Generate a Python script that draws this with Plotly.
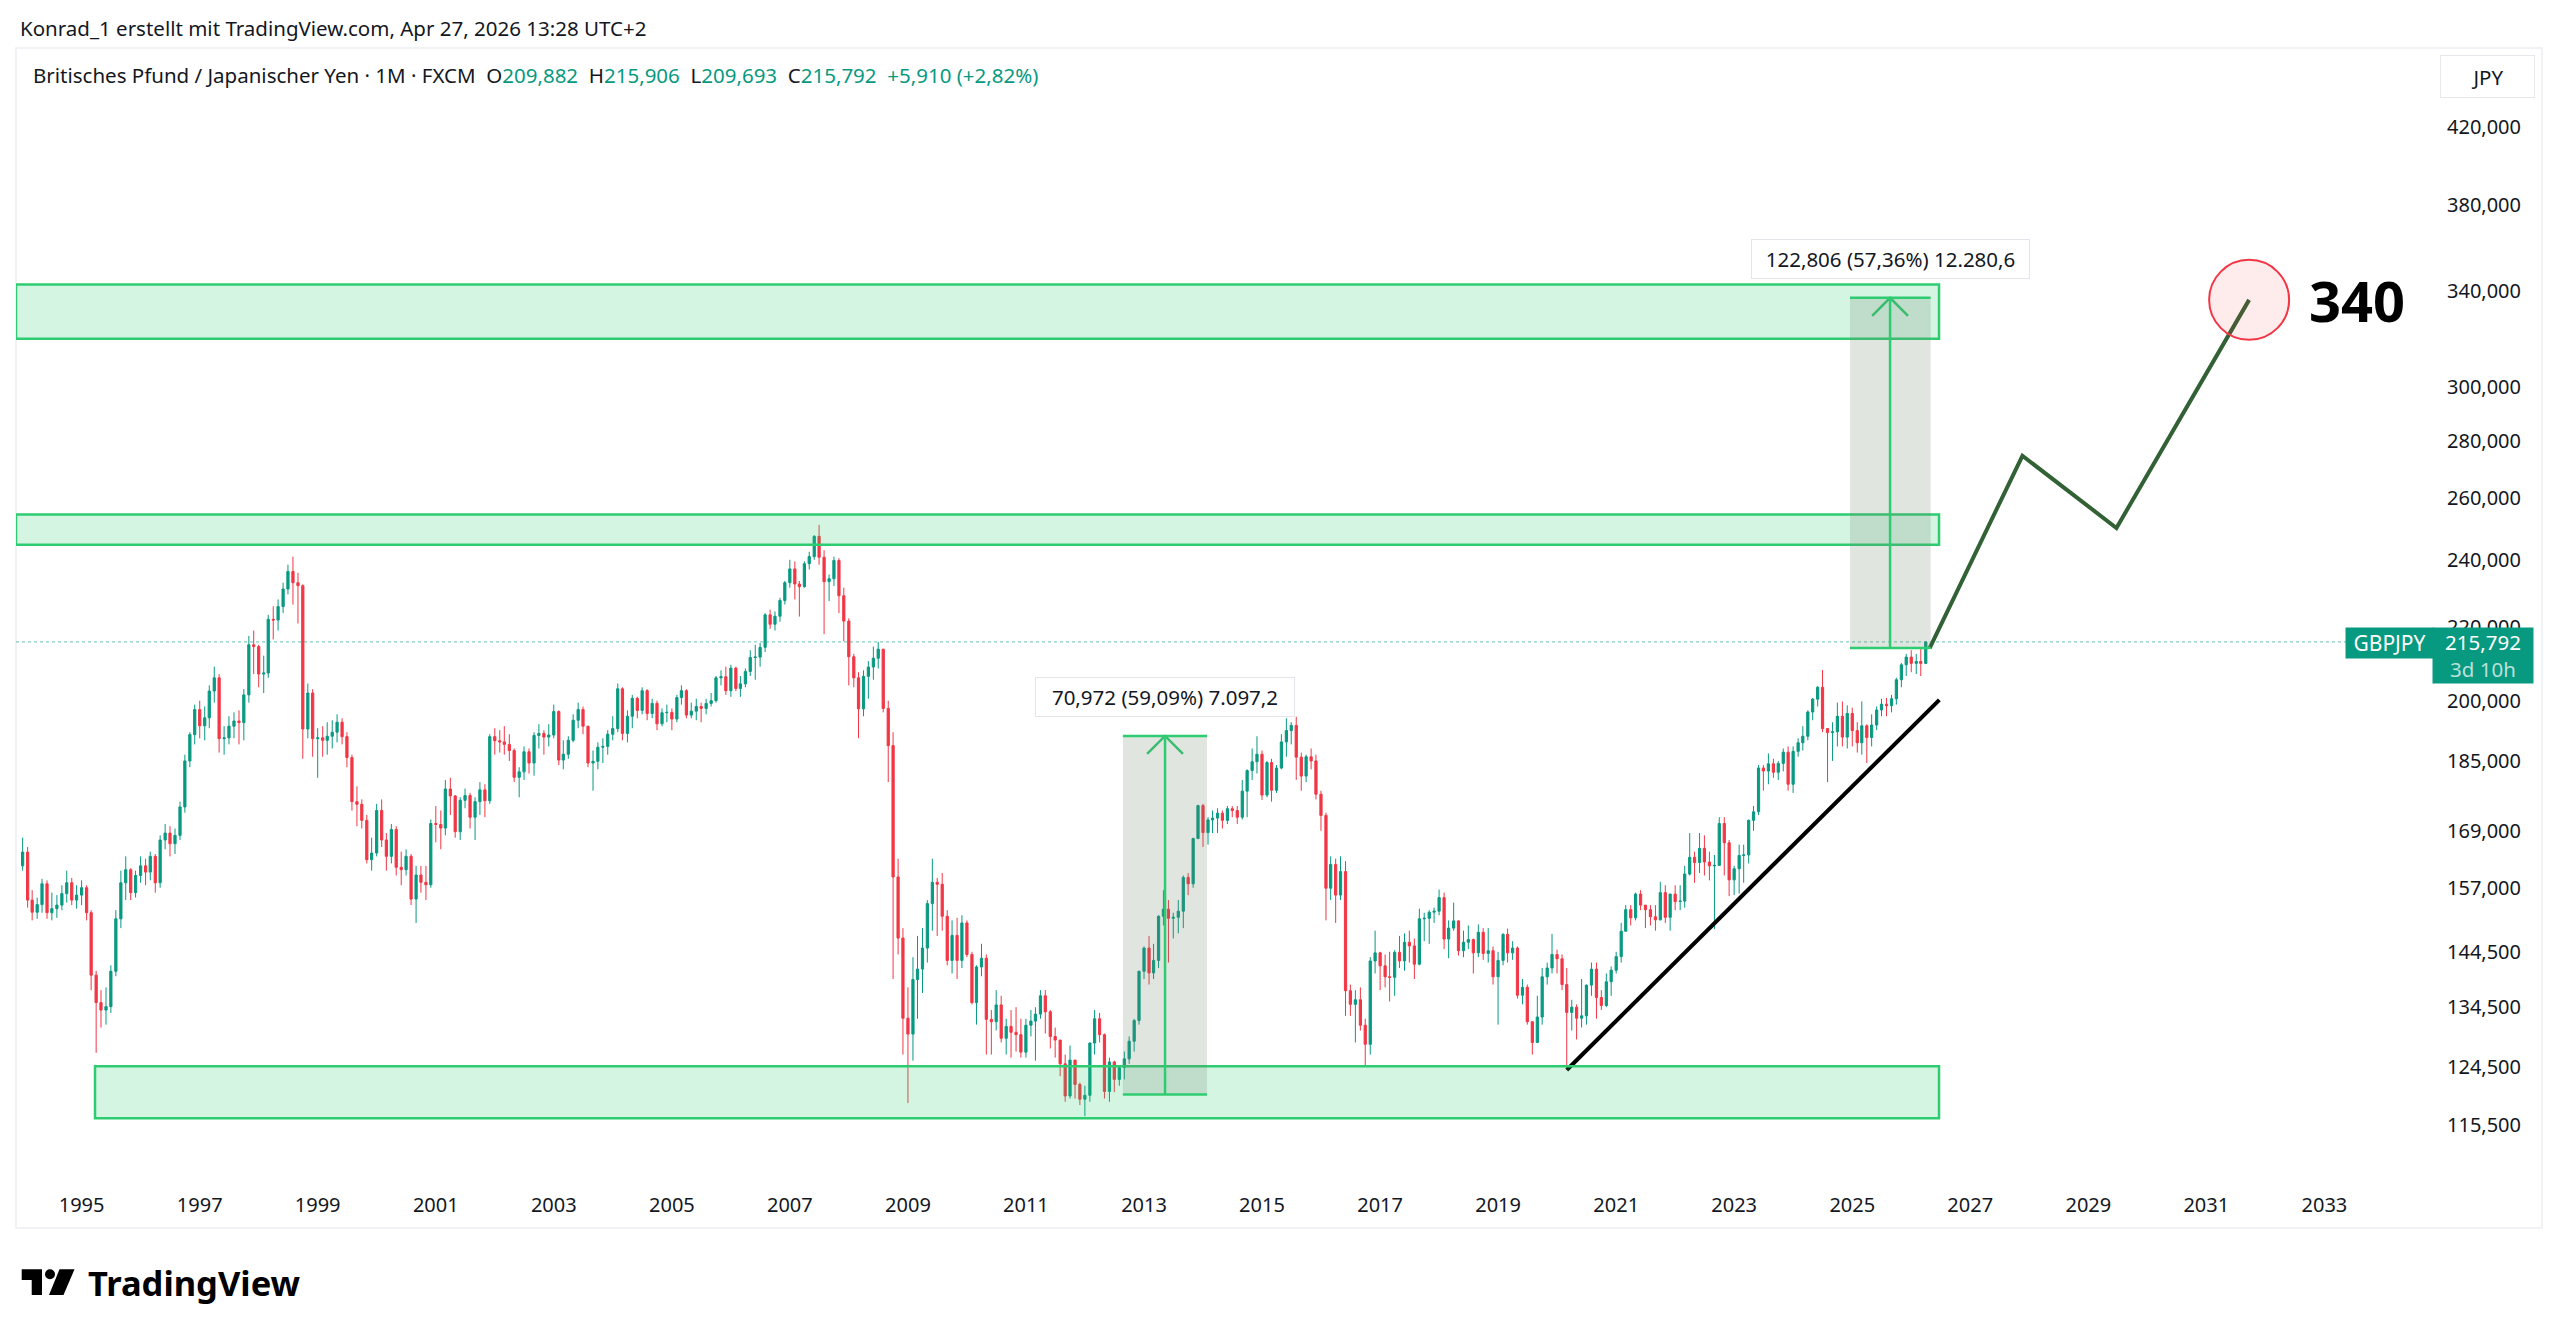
import math
import pandas as pd
import plotly.graph_objects as go

# ---------------- data ----------------
FIRST_MONTH = "1994-01-01"
FIRST_OPEN = 161.5

CLOSE = [
    164.4, 154.5, 152.1, 153.6, 157.8, 152.0, 152.8, 153.5, 155.8, 158.0, 154.5, 155.5,   # 1994
    157.0, 152.0, 140.2, 135.3, 134.0, 134.6, 140.9, 150.8, 158.0, 160.7, 156.0, 159.5,   # 1995
    161.5, 160.2, 163.5, 158.0, 167.0, 168.5, 166.2, 168.0, 174.3, 185.0, 191.4, 197.7,   # 1996
    193.6, 195.6, 202.5, 206.0, 190.4, 190.6, 193.5, 194.8, 194.4, 201.5, 215.0, 214.5,   # 1997
    207.0, 207.3, 222.2, 222.0, 225.9, 231.1, 236.4, 233.0, 232.1, 192.8, 202.0, 190.4,   # 1998
    190.6, 190.0, 191.0, 192.0, 194.5, 190.9, 185.8, 175.5, 174.9, 171.3, 162.8, 164.2,   # 1999
    173.5, 167.0, 163.5, 169.3, 161.2, 160.7, 163.5, 154.7, 159.6, 158.1, 157.6, 170.6,   # 2000
    170.4, 169.6, 178.4, 176.8, 168.8, 175.8, 176.9, 172.0, 175.5, 178.2, 175.7, 190.9,   # 2001
    189.9, 189.6, 189.0, 187.5, 181.1, 182.4, 187.2, 184.5, 191.2, 191.7, 190.8, 191.3,   # 2002
    197.2, 185.2, 186.6, 190.0, 195.0, 197.7, 193.5, 184.5, 184.9, 188.3, 188.5, 191.5,   # 2003
    192.9, 203.1, 191.7, 196.0, 200.6, 197.5, 202.6, 196.7, 199.3, 194.1, 196.9, 197.0,   # 2004
    195.3, 200.8, 202.6, 196.3, 197.3, 198.5, 198.0, 199.3, 200.0, 206.0, 206.3, 202.6,   # 2005
    208.6, 203.2, 204.4, 207.7, 211.5, 211.6, 214.3, 223.5, 220.8, 223.1, 227.7, 233.0,   # 2006
    237.2, 232.6, 231.8, 238.8, 241.0, 247.4, 240.8, 233.3, 234.2, 239.8, 229.1, 221.7,   # 2007
    211.7, 206.0, 197.9, 206.4, 208.9, 211.3, 213.8, 198.0, 188.7, 159.2, 147.1, 132.6,   # 2008
    129.9, 139.4, 141.3, 145.2, 153.8, 158.1, 157.7, 151.3, 142.9, 147.6, 142.9, 150.0,   # 2009
    144.0, 135.3, 141.7, 143.3, 132.4, 132.0, 134.9, 129.2, 131.2, 130.2, 129.8, 126.9,   # 2010
    131.4, 132.1, 133.3, 136.5, 133.7, 129.5, 128.9, 125.0, 119.9, 125.6, 121.7, 119.4,   # 2011
    120.0, 128.4, 132.5, 129.8, 120.6, 125.3, 122.5, 124.4, 125.8, 128.7, 132.2, 140.9,   # 2012
    145.2, 140.6, 142.9, 151.3, 152.7, 150.9, 151.1, 152.3, 159.1, 157.8, 167.3, 174.6,   # 2013
    168.6, 171.4, 171.8, 172.9, 171.3, 173.9, 173.5, 172.0, 177.9, 182.7, 184.8, 186.6,   # 2014
    177.0, 184.6, 178.1, 183.3, 189.6, 192.4, 193.7, 185.9, 181.4, 186.0, 185.0, 177.2,   # 2015
    172.4, 156.9, 161.8, 155.5, 160.3, 137.4, 135.0, 135.8, 131.4, 128.2, 142.8, 144.3,   # 2016
    141.9, 139.9, 139.8, 144.4, 142.8, 146.3, 145.6, 142.2, 150.8, 150.9, 152.1, 152.3,   # 2017
    155.0, 146.9, 149.0, 150.4, 144.7, 146.3, 146.8, 144.3, 148.2, 144.2, 144.7, 139.9,   # 2018
    142.9, 147.8, 144.3, 145.2, 136.6, 138.0, 132.0, 128.5, 132.8, 139.9, 141.5, 144.0,   # 2019
    143.2, 138.5, 133.6, 134.5, 132.6, 133.0, 138.4, 141.3, 136.2, 134.8, 139.0, 141.1,   # 2020
    143.6, 148.4, 152.6, 151.0, 155.7, 153.5, 152.6, 151.2, 150.6, 156.0, 151.1, 155.7,   # 2021
    154.2, 154.3, 159.8, 163.3, 162.2, 165.2, 162.3, 161.5, 161.6, 170.6, 166.4, 158.6,   # 2022
    160.9, 163.7, 163.8, 171.3, 173.2, 183.3, 182.6, 184.3, 182.3, 184.4, 187.1, 179.5,   # 2023
    187.3, 189.4, 191.0, 197.1, 200.4, 203.5, 192.9, 191.9, 192.1, 196.0, 190.8, 196.7,   # 2024
    192.4, 189.4, 193.6, 190.7, 193.8, 197.6, 199.1, 198.7, 200.5, 205.5, 209.5, 211.6,   # 2025
    209.9, 210.4, 209.882, 215.792,                                                       # 2026
]

HIGH = [
    167.5, 165.5, 156.5, 155.0, 158.8, 158.5, 156.0, 155.5, 157.5, 160.5, 159.0, 157.5,
    158.5, 157.5, 152.5, 141.0, 137.5, 138.0, 142.0, 152.5, 160.5, 163.5, 161.0, 160.5,
    163.5, 163.0, 164.5, 164.0, 168.0, 170.5, 170.0, 169.5, 175.5, 186.5, 192.0, 199.0,
    200.0, 198.5, 204.0, 209.0, 207.0, 193.5, 196.0, 197.0, 197.5, 203.0, 217.5, 219.0,
    215.0, 212.0, 223.5, 226.0, 228.0, 233.0, 238.5, 241.0, 236.0, 232.5, 204.5, 203.0,
    193.0, 193.5, 194.5, 195.0, 196.5, 195.5, 192.0, 186.5, 179.0, 176.0, 172.5, 167.5,
    175.0, 176.0, 168.5, 170.5, 170.0, 164.5, 165.0, 164.0, 161.5, 161.5, 161.5, 171.5,
    174.5, 173.5, 180.5, 181.0, 177.0, 176.5, 178.5, 177.5, 176.5, 180.0, 179.5, 191.5,
    193.0, 192.5, 193.5, 191.5, 188.0, 183.5, 188.5, 188.0, 192.0, 194.0, 192.5, 194.0,
    199.0, 197.5, 190.0, 191.0, 196.5, 199.5, 198.5, 193.5, 187.5, 189.5, 190.5, 192.5,
    196.0, 204.5, 203.5, 197.5, 201.5, 201.0, 203.5, 203.0, 200.5, 200.0, 198.0, 199.0,
    198.0, 201.5, 204.0, 203.0, 199.5, 200.5, 199.5, 200.5, 202.0, 206.5, 208.0, 209.0,
    209.5, 209.0, 206.5, 208.5, 213.5, 215.0, 215.5, 224.0, 225.0, 224.5, 228.5, 233.5,
    240.0, 239.5, 233.5, 239.5, 242.5, 247.8, 251.1, 243.0, 235.5, 241.0, 240.5, 231.5,
    222.5, 212.5, 207.5, 208.0, 210.5, 214.5, 215.8, 213.5, 200.0, 192.0, 163.0, 149.0,
    138.0, 143.5, 147.5, 149.0, 154.5, 163.0, 159.0, 160.0, 152.5, 150.5, 151.0, 151.5,
    150.5, 144.5, 142.0, 146.0, 144.0, 134.0, 137.5, 136.5, 132.5, 134.0, 134.5, 132.5,
    132.5, 134.0, 134.5, 137.5, 137.5, 134.0, 131.0, 128.0, 126.5, 128.0, 125.5, 122.0,
    121.5, 128.5, 134.0, 133.5, 130.0, 126.0, 125.5, 124.5, 127.0, 129.5, 132.5, 141.0,
    145.5, 147.5, 146.0, 151.5, 156.5, 154.5, 152.0, 154.5, 159.5, 160.0, 167.5, 174.8,
    175.0, 172.0, 173.5, 174.0, 173.5, 174.5, 174.5, 174.5, 180.5, 183.0, 188.0, 191.0,
    187.5, 185.0, 185.5, 184.0, 191.5, 195.5, 194.5, 195.9, 187.0, 186.5, 188.0, 186.5,
    178.0, 173.0, 163.5, 163.0, 163.5, 162.5, 138.5, 137.5, 138.0, 132.5, 143.5, 148.5,
    144.5, 144.0, 144.5, 144.8, 147.5, 148.0, 148.5, 147.0, 152.8, 152.0, 152.5, 153.0,
    156.6, 156.0, 150.5, 154.0, 150.5, 148.5, 149.5, 147.0, 149.7, 149.0, 149.0, 145.5,
    144.5, 148.0, 148.9, 146.5, 145.5, 139.5, 138.5, 132.0, 136.5, 141.5, 142.5, 147.9,
    144.9, 144.0, 141.5, 135.8, 135.0, 139.5, 138.5, 142.5, 142.5, 137.5, 140.5, 141.8,
    144.5, 150.0, 153.5, 153.5, 156.0, 156.5, 153.5, 153.5, 153.5, 158.2, 157.5, 155.8,
    157.5, 157.5, 161.5, 168.5, 164.5, 168.5, 168.0, 164.5, 163.8, 172.0, 172.0, 167.0,
    161.5, 166.0, 166.0, 171.5, 174.5, 184.0, 184.0, 186.8, 185.5, 185.0, 188.0, 188.5,
    188.5, 190.5, 193.5, 197.5, 200.7, 203.8, 208.1, 193.0, 194.5, 199.5, 199.8, 198.8,
    198.2, 194.5, 199.8, 194.0, 196.5, 198.5, 200.5, 200.7, 201.5, 206.0, 210.0, 212.5,
    213.5, 212.5, 214.0, 215.906,
]

LOW = [
    160.5, 153.0, 150.5, 150.8, 152.0, 150.8, 150.5, 151.0, 152.5, 154.0, 153.5, 152.8,
    153.5, 150.5, 137.5, 126.8, 131.0, 131.5, 133.5, 140.0, 149.0, 154.5, 154.5, 155.0,
    158.0, 157.5, 158.5, 156.0, 157.0, 165.0, 163.5, 164.0, 167.0, 173.0, 183.5, 189.0,
    190.5, 190.0, 193.0, 199.5, 187.0, 186.5, 189.0, 190.5, 189.0, 190.0, 199.5, 207.0,
    203.5, 202.0, 206.0, 216.5, 219.0, 224.0, 229.5, 226.5, 221.0, 185.5, 190.5, 186.0,
    181.0, 186.0, 186.5, 188.0, 189.5, 189.0, 183.5, 173.5, 170.0, 169.5, 162.0, 160.5,
    163.5, 165.5, 160.5, 162.0, 159.5, 157.5, 159.5, 153.5, 150.0, 156.0, 154.5, 157.0,
    166.5, 165.0, 168.0, 172.5, 167.5, 167.0, 174.0, 169.5, 167.0, 172.5, 172.0, 175.0,
    186.5, 187.0, 186.5, 185.0, 180.0, 176.5, 180.5, 182.0, 181.5, 188.0, 186.5, 188.5,
    190.5, 184.0, 183.0, 185.5, 189.5, 193.0, 191.5, 183.5, 178.0, 183.0, 184.5, 186.5,
    190.0, 192.0, 190.0, 189.5, 193.0, 195.5, 196.5, 195.0, 195.5, 192.5, 193.5, 194.5,
    192.5, 194.5, 199.0, 195.5, 195.5, 195.0, 194.5, 196.5, 198.5, 199.5, 204.0, 201.5,
    201.0, 202.5, 201.0, 203.5, 206.5, 205.5, 209.0, 213.0, 219.5, 219.0, 221.5, 226.5,
    231.5, 228.0, 223.0, 231.5, 237.0, 240.0, 238.5, 218.0, 227.5, 232.0, 224.0, 216.0,
    204.0, 203.5, 190.5, 196.0, 200.5, 205.5, 208.5, 197.0, 180.0, 139.5, 144.0, 126.5,
    118.8, 125.5, 132.5, 137.0, 142.5, 148.5, 147.5, 148.5, 142.0, 140.5, 139.5, 141.5,
    143.5, 135.0, 131.5, 140.0, 126.5, 126.5, 130.5, 128.5, 126.5, 126.0, 127.0, 126.0,
    126.0, 129.5, 125.5, 132.5, 130.0, 127.5, 126.0, 123.0, 119.0, 119.5, 119.5, 118.5,
    116.8, 119.0, 126.5, 128.5, 119.5, 119.0, 120.5, 121.5, 122.5, 125.0, 127.0, 131.5,
    139.5, 138.5, 139.5, 141.5, 149.5, 142.5, 147.0, 148.0, 149.0, 155.5, 157.0, 167.5,
    165.5, 166.0, 168.5, 168.5, 169.5, 170.5, 172.0, 170.5, 171.5, 172.0, 180.5, 182.0,
    175.9, 176.5, 175.5, 177.5, 183.0, 186.0, 189.0, 180.5, 178.0, 180.0, 183.0, 176.0,
    169.0, 150.5, 154.5, 150.0, 154.5, 133.0, 133.0, 128.5, 130.5, 124.5, 126.5, 140.5,
    137.5, 138.0, 135.5, 136.5, 141.5, 141.0, 142.5, 139.5, 142.0, 146.5, 146.0, 150.0,
    151.5, 145.0, 143.3, 148.5, 143.8, 143.5, 145.0, 140.5, 143.5, 143.0, 142.5, 138.5,
    131.5, 142.0, 142.5, 143.0, 136.0, 135.0, 131.5, 126.5, 130.5, 131.5, 138.5, 140.5,
    140.5, 137.5, 124.0, 130.5, 129.0, 131.0, 131.5, 136.5, 132.5, 134.0, 134.5, 136.5,
    140.5, 142.5, 148.5, 149.5, 150.5, 152.5, 149.0, 149.5, 148.5, 150.5, 150.0, 148.5,
    152.5, 152.5, 153.0, 159.5, 158.0, 160.0, 159.5, 158.5, 148.8, 161.5, 159.5, 155.3,
    155.5, 155.8, 158.0, 162.0, 169.0, 172.5, 178.0, 179.5, 181.0, 180.5, 182.5, 178.0,
    177.5, 186.0, 187.5, 190.0, 195.0, 198.5, 192.0, 180.0, 185.0, 188.5, 188.5, 188.0,
    188.5, 187.0, 186.5, 184.5, 188.5, 192.5, 196.0, 196.0, 197.0, 199.0, 203.5, 206.5,
    207.5, 207.0, 206.5, 209.693,
]

LAST_PRICE = 215.792
LEGEND_VALUES = ["209,882", "215,906", "209,693", "215,792", "+5,910 (+2,82%)"]

# drawings
ZONE_LOW = [319.5, 244.7, 116.5]
ZONE_HIGH = [342.7, 254.5, 124.6]
ZONE_START = ["1993-11-21", "1993-11-21", "1995-03-25"]
ZONE_END = "2026-06-22"

MEASURE_START = ["2012-08-23", "2024-12-18"]
MEASURE_END = ["2014-01-26", "2026-05-01"]
MEASURE_MID = ["2013-05-11", "2025-08-23"]
MEASURE_FROM = [120.11, 214.10]
MEASURE_TO = [191.08, 336.906]
MEASURE_TEXT = ["70,972 (59,09%) 7.097,2", "122,806 (57,36%) 12.280,6"]

FORECAST_DATES = ["2026-04-25", "2027-11-20", "2029-06-24", "2031-09-23"]
FORECAST_PRICES = [214.10, 274.6, 250.1, 336.0]
TARGET_TEXT = "340"

TREND_DATES = ["2020-03-01", "2026-06-24"]
TREND_PRICES = [124.0, 200.2]

Y_TICKS = [115.5, 124.5, 134.5, 144.5, 157, 169, 185, 200, 220, 240, 260, 280, 300, 340, 380, 420]
Y_TICK_TEXT = ["115,500", "124,500", "134,500", "144,500", "157,000", "169,000", "185,000",
               "200,000", "220,000", "240,000", "260,000", "280,000", "300,000", "340,000",
               "380,000", "420,000"]
X_TICK_YEARS = list(range(1995, 2034, 2))

# ---------------- layout geometry ----------------
W, H = 2560, 1337
ML, MR, MT, MB = 16, 127, 49, 152
PW = W - ML - MR
PH = H - MT - MB
X_RANGE = ["1993-11-21", "2034-11-04"]
Y_RANGE = [math.log10(106.85), math.log10(464.9)]
PX_PER_LN = 772.7          # vertical pixels per natural-log unit of price
PX_PER_DAY = PW / 14958.0  # horizontal pixels per day

UP = "#089981"
DOWN = "#F23645"
ZONE_LINE = "#2ECC71"
ZONE_FILL = "rgba(46,204,113,0.2)"
TXT = "#131722"
FONT = "Noto Sans"
FS = 20.5


def px(X):
    return (X - ML) / PW


def py(Y):
    return (H - MB - Y) / PH


dates = pd.date_range(FIRST_MONTH, periods=len(CLOSE), freq="MS")
opens = [FIRST_OPEN] + CLOSE[:-1]
highs = [max(h, o, c) for h, o, c in zip(HIGH, opens, CLOSE)]
lows = [min(l, o, c) for l, o, c in zip(LOW, opens, CLOSE)]

fig = go.Figure()

fig.add_trace(go.Candlestick(
    x=dates, open=opens, high=highs, low=lows, close=CLOSE,
    increasing=dict(line=dict(color=UP, width=1), fillcolor=UP),
    decreasing=dict(line=dict(color=DOWN, width=1), fillcolor=DOWN),
    whiskerwidth=0, showlegend=False, hoverinfo="skip",
))

shapes = []
# chart frame
shapes.append(dict(type="rect", xref="paper", yref="paper",
                   x0=px(16), x1=px(2542), y0=py(48), y1=py(1228),
                   line=dict(color="#ECEEF2", width=1.5), fillcolor="rgba(0,0,0,0)", layer="below"))
# last price dotted line
shapes.append(dict(type="line", xref="paper", yref="y", x0=0, x1=px(2346),
                   y0=LAST_PRICE, y1=LAST_PRICE,
                   line=dict(color="rgba(8,153,129,0.5)", width=1.2, dash="dot"), layer="below"))
# zones
for lo, hi, st in zip(ZONE_LOW, ZONE_HIGH, ZONE_START):
    shapes.append(dict(type="rect", xref="x", yref="y", x0=st, x1=ZONE_END, y0=lo, y1=hi,
                       line=dict(color=ZONE_LINE, width=2.5), fillcolor=ZONE_FILL, layer="above"))
# price range measurements
for st, en, mid, a, b in zip(MEASURE_START, MEASURE_END, MEASURE_MID, MEASURE_FROM, MEASURE_TO):
    shapes.append(dict(type="rect", xref="x", yref="y", x0=st, x1=en, y0=a, y1=b,
                       line=dict(width=0), fillcolor="rgba(110,130,110,0.21)", layer="above"))
    for v in (a, b):
        shapes.append(dict(type="line", xref="x", yref="y", x0=st, x1=en, y0=v, y1=v,
                           line=dict(color=ZONE_LINE, width=2.5), layer="above"))
    shapes.append(dict(type="line", xref="x", yref="y", x0=mid, x1=mid, y0=a, y1=b,
                       line=dict(color=ZONE_LINE, width=2.5), layer="above"))

# TradingView logo mark
def ppath(points):
    return "M " + " L ".join(f"{px(x):.5f},{py(y):.5f}" for x, y in points) + " Z"

shapes.append(dict(type="path", xref="paper", yref="paper",
                   path=ppath([(21.7, 1269.3), (42, 1269.3), (42, 1295), (31.7, 1295), (31.7, 1280), (21.7, 1280)]),
                   fillcolor="#000000", line=dict(width=0)))
shapes.append(dict(type="circle", xref="paper", yref="paper",
                   x0=px(45), x1=px(55), y0=py(1279.3), y1=py(1269.3),
                   fillcolor="#000000", line=dict(width=0)))
shapes.append(dict(type="path", xref="paper", yref="paper",
                   path=ppath([(59.5, 1269.3), (74.5, 1269.3), (63.5, 1295), (49, 1295)]),
                   fillcolor="#000000", line=dict(width=0)))

# arrowheads of the measurements (18 px wide / tall)
head_days = pd.Timedelta(days=round(18 / PX_PER_DAY))
head_drop = math.exp(-18 / PX_PER_LN)
for mid, b in zip(MEASURE_MID, MEASURE_TO):
    m = pd.Timestamp(mid)
    fig.add_trace(go.Scatter(x=[m - head_days, m, m + head_days], y=[b * head_drop, b, b * head_drop],
                             mode="lines", line=dict(color=ZONE_LINE, width=2.5),
                             showlegend=False, hoverinfo="skip"))

# trend line and forecast path
fig.add_trace(go.Scatter(x=TREND_DATES, y=TREND_PRICES, mode="lines",
                         line=dict(color="#000000", width=4), showlegend=False, hoverinfo="skip"))
fig.add_trace(go.Scatter(x=FORECAST_DATES, y=FORECAST_PRICES, mode="lines",
                         line=dict(color="#316134", width=4), showlegend=False, hoverinfo="skip"))
# target circle
fig.add_trace(go.Scatter(x=[FORECAST_DATES[-1]], y=[FORECAST_PRICES[-1]], mode="markers",
                         marker=dict(size=80, color="rgba(242,54,69,0.1)",
                                     line=dict(color=DOWN, width=2)),
                         showlegend=False, hoverinfo="skip"))

annotations = []
annotations.append(dict(xref="paper", yref="paper", x=px(18), y=py(28), xanchor="left", yanchor="middle",
                        text="Konrad_1 erstellt mit TradingView.com, Apr 27, 2026 13:28 UTC+2",
                        showarrow=False, font=dict(family=FONT, size=FS, color=TXT)))
sp = "\u00a0"
teal = lambda s: f'<span style="color:{UP}">{s}</span>'
legend = (f"Britisches Pfund / Japanischer Yen · 1M · FXCM{sp}{sp}"
          f"O{teal(LEGEND_VALUES[0])}{sp}{sp}H{teal(LEGEND_VALUES[1])}{sp}{sp}"
          f"L{teal(LEGEND_VALUES[2])}{sp}{sp}C{teal(LEGEND_VALUES[3])}{sp}{sp}{teal(LEGEND_VALUES[4])}")
annotations.append(dict(xref="paper", yref="paper", x=px(31), y=py(75), xanchor="left", yanchor="middle",
                        text=legend, showarrow=False, font=dict(family=FONT, size=FS, color=TXT)))
# JPY box
annotations.append(dict(xref="paper", yref="paper", x=px(2487.5), y=py(76.5), xanchor="center", yanchor="middle",
                        text="JPY", showarrow=False, width=93, height=41, borderpad=0,
                        bordercolor="#E6E8EC", borderwidth=1, bgcolor="#FFFFFF",
                        font=dict(family=FONT, size=FS, color=TXT)))
# price tags
annotations.append(dict(xref="paper", yref="paper", x=px(2389.5), y=py(643), xanchor="center", yanchor="middle",
                        text="GBPJPY", showarrow=False, width=87, height=30, borderpad=0,
                        bgcolor=UP, font=dict(family=FONT, size=21, color="#FFFFFF")))
annotations.append(dict(xref="paper", yref="paper", x=px(2483), y=py(655.5), xanchor="center", yanchor="middle",
                        text='215,792<br><span style="color:rgba(255,255,255,0.72)">3d 10h</span>',
                        showarrow=False, width=100, height=55, borderpad=0,
                        bgcolor=UP, font=dict(family=FONT, size=20.5, color="#FFFFFF")))
# measurement labels
for mid, b, t, w in zip(MEASURE_MID, MEASURE_TO, MEASURE_TEXT, [258, 277]):
    annotations.append(dict(xref="x", yref="y", x=mid, y=math.log10(b), yshift=39,
                            xanchor="center", yanchor="middle", text=t, showarrow=False,
                            width=w, height=38, borderpad=0, bgcolor="#FFFFFF",
                            bordercolor="#E3E5EA", borderwidth=1,
                            font=dict(family=FONT, size=FS, color=TXT)))
# target label
annotations.append(dict(xref="x", yref="y", x=FORECAST_DATES[-1], y=math.log10(FORECAST_PRICES[-1]),
                        xshift=108, yshift=0, xanchor="center", yanchor="middle",
                        text=f"<b>{TARGET_TEXT}</b>",
                        showarrow=False, font=dict(family=FONT, size=56, color="#000000")))
# TradingView wordmark
annotations.append(dict(xref="paper", yref="paper", x=px(86), y=py(1282), xanchor="left", yanchor="middle",
                        text="<b>TradingView</b>", showarrow=False,
                        font=dict(family=FONT, size=34.5, color="#000000")))

fig.update_layout(
    width=W, height=H,
    margin=dict(l=ML, r=MR, t=MT, b=MB, autoexpand=False),
    paper_bgcolor="#FFFFFF", plot_bgcolor="#FFFFFF",
    shapes=shapes, annotations=annotations,
    showlegend=False,
    font=dict(family=FONT, size=FS, color=TXT),
    xaxis=dict(type="date", range=X_RANGE, rangeslider=dict(visible=False),
               tickvals=[f"{y}-01-01" for y in X_TICK_YEARS], ticktext=[str(y) for y in X_TICK_YEARS],
               showgrid=False, zeroline=False, showline=False, ticks="",
               ticklabelstandoff=6, tickfont=dict(family=FONT, size=20, color=TXT), fixedrange=True),
    yaxis=dict(type="log", range=Y_RANGE, side="right", tickvals=Y_TICKS, ticktext=Y_TICK_TEXT,
               showgrid=False, zeroline=False, showline=False, ticks="",
               ticklabelstandoff=13, tickfont=dict(family=FONT, size=20, color=TXT), fixedrange=True),
)

fig.write_html("out.html")
